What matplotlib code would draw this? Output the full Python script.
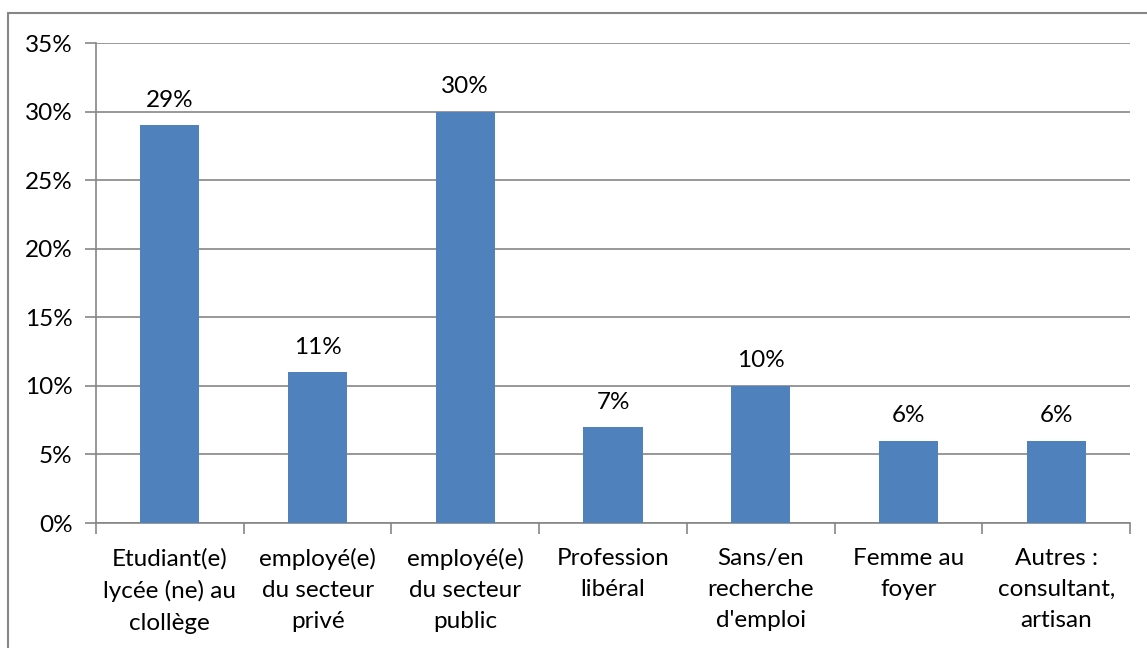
import matplotlib.pyplot as plt
import numpy as np
from matplotlib.patches import Rectangle
from matplotlib.ticker import PercentFormatter

categories = ["Etudiant(e)\nlycée (ne) au\nclollège",
              "employé(e)\ndu secteur\nprivé",
              "employé(e)\ndu secteur\npublic",
              "Profession\nlibéral",
              "Sans/en\nrecherche\nd'emploi",
              "Femme au\nfoyer",
              "Autres :\nconsultant,\nartisan"]
values = [29, 11, 30, 7, 10, 6, 6]
yticks = [0, 5, 10, 15, 20, 25, 30, 35]

plt.rcParams['font.family'] = ['Lato', 'DejaVu Sans']
gray = '#868686'
fs = 17.5

fig = plt.figure(figsize=(11.47, 6.48), dpi=100)
# outer chart frame
fig.patches.append(Rectangle((8 / 1147, -0.05), 1.1, 1 - 13 / 648 + 0.05,
                             transform=fig.transFigure, fill=False,
                             edgecolor='#878787', linewidth=1.5))
ax = fig.add_axes([96 / 1147, 1 - 523 / 648, (1130 - 96) / 1147, (523 - 43) / 648])

x = np.arange(len(values))
ax.bar(x, values, width=0.4, color='#4F81BD', zorder=3)
for xi, v in zip(x, values):
    ax.text(xi, v + 1.05, f"{v}%", ha='center', va='bottom', fontsize=fs)

ax.set_ylim(0, 35)
ax.set_xlim(-0.5, len(values) - 0.5)
ax.set_yticks(yticks)
ax.yaxis.set_major_formatter(PercentFormatter(decimals=0))
ax.yaxis.grid(True, color=gray, linewidth=1.2, zorder=0)
ax.set_xticks(x)
ax.set_xticklabels(categories, fontsize=fs, linespacing=1.6)
ax.set_xticks(np.arange(len(values) + 1) - 0.5, minor=True)
ax.tick_params(axis='x', which='major', length=0, pad=18)
ax.tick_params(axis='x', which='minor', length=8, color=gray, width=1.2)
ax.tick_params(axis='y', length=8, color=gray, width=1.2, labelsize=fs, pad=9)
for s in ['top', 'right']:
    ax.spines[s].set_visible(False)
for s in ['left', 'bottom']:
    ax.spines[s].set_color(gray)
    ax.spines[s].set_linewidth(1.2)

fig.savefig('out.png', dpi=100)
